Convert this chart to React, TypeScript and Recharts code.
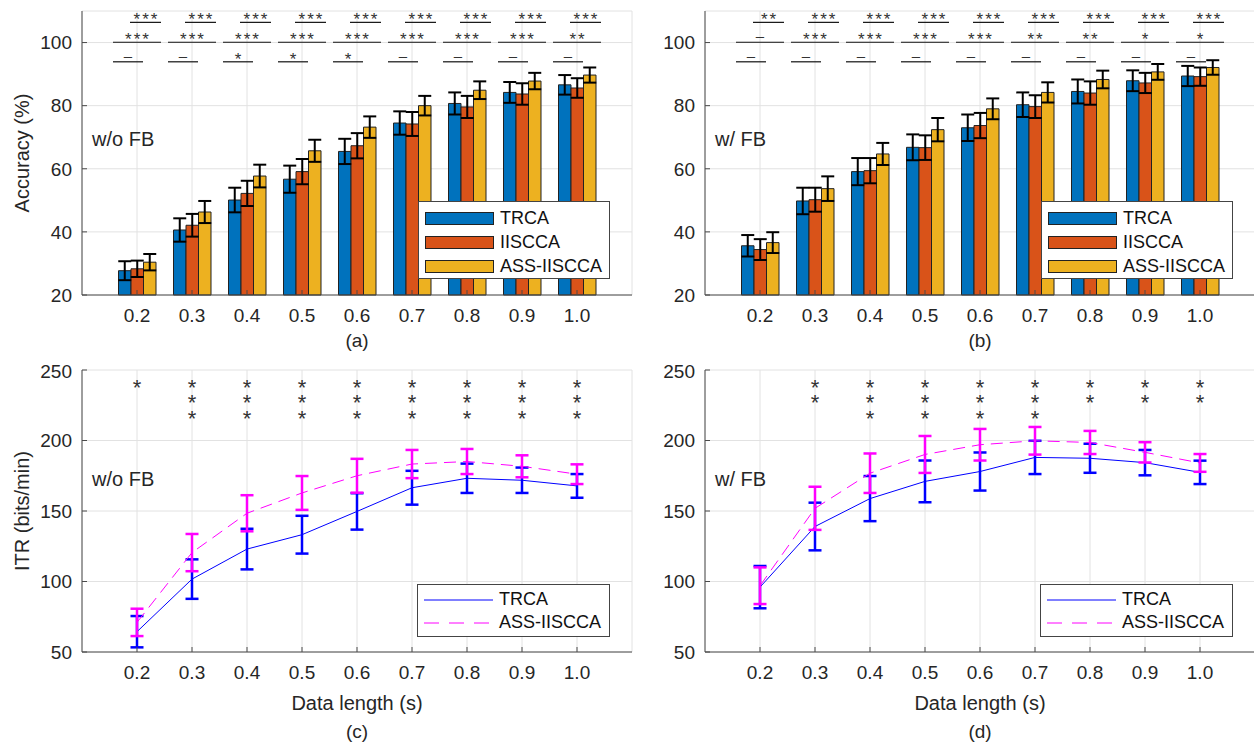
import React from "react";
import {
  Bar,
  BarChart,
  CartesianGrid,
  ErrorBar,
  Legend,
  Line,
  LineChart,
  ReferenceDot,
  XAxis,
  YAxis,
} from "recharts";

// data lengths (s)
const lengths = ["0.2", "0.3", "0.4", "0.5", "0.6", "0.7", "0.8", "0.9", "1.0"];

// accuracy (%), w/o filter bank
const accTrcaNoFb = [27.7, 40.6, 50.1, 56.7, 65.5, 74.5, 80.7, 84.2, 86.6];
const accTrcaNoFbErr = [3.0, 3.7, 3.9, 4.3, 4.0, 3.7, 3.5, 3.3, 3.1];
const accIisNoFb = [28.3, 42.1, 52.2, 59.1, 67.3, 74.2, 79.6, 83.7, 85.6];
const accIisNoFbErr = [2.6, 3.6, 4.0, 4.0, 4.0, 3.8, 3.5, 3.4, 3.1];
const accAssNoFb = [30.4, 46.3, 57.7, 65.7, 73.2, 80.0, 84.9, 87.8, 89.7];
const accAssNoFbErr = [2.6, 3.5, 3.6, 3.5, 3.4, 3.1, 2.8, 2.6, 2.4];

// accuracy (%), w/ filter bank
const accTrcaFb = [35.6, 49.8, 59.1, 66.8, 73.0, 80.3, 84.5, 87.9, 89.4];
const accTrcaFbErr = [3.4, 4.2, 4.3, 4.1, 4.2, 3.9, 3.8, 3.3, 3.2];
const accIisFb = [34.4, 50.2, 59.4, 66.7, 73.7, 79.7, 84.0, 87.2, 89.2];
const accIisFbErr = [3.3, 3.8, 4.0, 3.9, 4.0, 3.6, 3.7, 3.2, 2.9];
const accAssFb = [36.6, 53.7, 64.7, 72.4, 79.0, 84.2, 88.3, 90.7, 92.1];
const accAssFbErr = [3.3, 3.9, 3.5, 3.7, 3.3, 3.2, 2.8, 2.5, 2.3];

// significance marks: IISCCA vs ASS, TRCA vs ASS, TRCA vs IISCCA
const sigNoFbIA = ["***", "***", "***", "***", "***", "***", "***", "***", "***"];
const sigNoFbTA = ["***", "***", "***", "***", "***", "***", "***", "***", "**"];
const sigNoFbTI = ["–", "–", "*", "*", "*", "–", "–", "–", "–"];
const sigFbIA = ["**", "***", "***", "***", "***", "***", "***", "***", "***"];
const sigFbTA = ["–", "***", "***", "***", "***", "**", "**", "*", "*"];
const sigFbTI = ["–", "–", "–", "–", "–", "–", "–", "–", "–"];

// ITR (bits/min)
const itrTrcaNoFb = [64.4, 101.7, 123.0, 133.2, 149.7, 166.5, 173.2, 171.8, 167.8];
const itrTrcaNoFbErr = [11.1, 14.0, 14.4, 13.4, 12.9, 12.0, 10.4, 9.0, 8.4];
const itrAssNoFb = [71.0, 120.5, 148.4, 162.8, 175.0, 183.3, 185.1, 181.7, 176.1];
const itrAssNoFbErr = [9.7, 13.2, 12.8, 12.0, 12.0, 10.0, 8.9, 7.8, 7.0];
const itrTrcaFb = [96.0, 139.0, 158.8, 171.0, 178.0, 188.0, 187.4, 184.3, 177.4];
const itrTrcaFbErr = [15.0, 16.9, 16.0, 14.8, 13.5, 11.8, 10.3, 9.0, 8.3];
const itrAssFb = [97.0, 151.9, 176.8, 190.1, 197.0, 199.8, 198.6, 191.6, 184.1];
const itrAssFbErr = [13.0, 15.3, 14.0, 13.1, 11.2, 9.8, 8.2, 7.2, 6.3];

// number of stars above each ITR pair
const itrStarsNoFb = [1, 3, 3, 3, 3, 3, 3, 3, 3];
const itrStarsFb = [0, 2, 3, 3, 3, 3, 2, 2, 2];

const seriesOrder = ["TRCA", "IISCCA", "ASS-IISCCA"];

const FONT = 'Arial, "Liberation Sans", Helvetica, sans-serif';
const TEXT = "#262626";
const GRID = "#e2e2e2";
const AXIS = "#4a4a4a";

// bracket rows: y in accuracy units, x ends in px from group centre
const BRACKETS = [
  { y: 106.4, from: -7, to: 24 },
  { y: 100.1, from: -24, to: 24 },
  { y: 93.9, from: -24, to: 6 },
];

const ordered = (payload: any[] = []) =>
  [...payload].sort((a, b) => seriesOrder.indexOf(a.value) - seriesOrder.indexOf(b.value));

function SigMark({ cx, cy, from, to, text }: any) {
  const dash = text === "–";
  return (
    <g>
      <line x1={cx + from} x2={cx + to} y1={cy} y2={cy} stroke="#111" strokeWidth={1.2} />
      <text
        x={cx + (from + to) / 2 + (dash ? 0 : 1)}
        y={dash ? cy - 1 : cy + 3}
        textAnchor="middle"
        fontSize={dash ? 15 : 17}
        letterSpacing={dash ? 0 : 2}
        fill="#333"
        fontFamily={FONT}
      >
        {text}
      </text>
    </g>
  );
}

function StarStack({ cx, cy, n }: any) {
  return (
    <text y={cy + 12} textAnchor="middle" fontSize={22} fill="#333" fontFamily={FONT}>
      {Array.from({ length: n }).map((_, k) => (
        <tspan key={k} x={cx} dy={k === 0 ? 0 : 15.5}>
          *
        </tspan>
      ))}
    </text>
  );
}

function BarLegend({ payload }: any) {
  return (
    <div
      style={{
        width: 192,
        height: 78,
        boxSizing: "border-box",
        border: "1px solid #444",
        background: "#fff",
        padding: "4px 0 0 6px",
        fontFamily: FONT,
      }}
    >
      {ordered(payload).map((e: any) => (
        <div key={e.value} style={{ display: "flex", alignItems: "center", height: 24 }}>
          <span
            style={{
              display: "inline-block",
              width: 69,
              height: 13,
              boxSizing: "border-box",
              background: e.color,
              border: "1px solid #222",
            }}
          />
          <span style={{ marginLeft: 6, fontSize: 18, color: "#111" }}>{e.value}</span>
        </div>
      ))}
    </div>
  );
}

function LineLegend({ payload }: any) {
  return (
    <div
      style={{
        width: 193,
        height: 53,
        boxSizing: "border-box",
        border: "1px solid #444",
        background: "#fff",
        padding: "3px 0 0 6px",
        fontFamily: FONT,
      }}
    >
      {ordered(payload).map((e: any) => (
        <div key={e.value} style={{ display: "flex", alignItems: "center", height: 23 }}>
          <svg width={69} height={10}>
            <line
              x1={0}
              x2={69}
              y1={5}
              y2={5}
              stroke={e.color}
              strokeWidth={1}
              strokeDasharray={e.value === "ASS-IISCCA" ? "15 10" : undefined}
            />
          </svg>
          <span style={{ marginLeft: 6, fontSize: 18, color: "#111" }}>{e.value}</span>
        </div>
      ))}
    </div>
  );
}

function AccuracyPanel({ trca, trcaErr, iis, iisErr, ass, assErr, sigRows }: any) {
  const data = lengths.map((x, i) => ({
    x,
    trca: trca[i],
    trcaErr: trcaErr[i],
    iis: iis[i],
    iisErr: iisErr[i],
    ass: ass[i],
    assErr: assErr[i],
  }));
  return (
    <BarChart
      width={640}
      height={360}
      data={data}
      margin={{ top: 11, right: 8, left: 22, bottom: 35 }}
      barGap={0}
      barSize={12.5}
    >
      <CartesianGrid stroke={GRID} />
      <XAxis
        dataKey="x"
        interval={0}
        padding={{ left: 27.5, right: 27.5 }}
        tick={{ fill: TEXT, fontSize: 19, fontFamily: FONT }}
        tickSize={-5}
        tickMargin={19}
        stroke={AXIS}
      />
      <YAxis
        width={60}
        domain={[20, 110]}
        ticks={[20, 40, 60, 80, 100]}
        tick={{ fill: TEXT, fontSize: 19, fontFamily: FONT }}
        tickSize={-5}
        tickMargin={15}
        stroke={AXIS}
      />
      <Bar dataKey="trca" name="TRCA" fill="#0072BD" stroke="#222" strokeWidth={1} isAnimationActive={false}>
        <ErrorBar dataKey="trcaErr" width={6.5} strokeWidth={2} stroke="#000" direction="y" />
      </Bar>
      <Bar dataKey="iis" name="IISCCA" fill="#D95319" stroke="#222" strokeWidth={1} isAnimationActive={false}>
        <ErrorBar dataKey="iisErr" width={6.5} strokeWidth={2} stroke="#000" direction="y" />
      </Bar>
      <Bar dataKey="ass" name="ASS-IISCCA" fill="#EDB120" stroke="#222" strokeWidth={1} isAnimationActive={false}>
        <ErrorBar dataKey="assErr" width={6.5} strokeWidth={2} stroke="#000" direction="y" />
      </Bar>
      {BRACKETS.map((row, r) =>
        lengths.map((x, i) => (
          <ReferenceDot
            key={`b${r}-${i}`}
            x={x}
            y={row.y}
            r={0}
            ifOverflow="visible"
            shape={(p: any) => <SigMark cx={p.cx} cy={p.cy} from={row.from} to={row.to} text={sigRows[r][i]} />}
          />
        ))
      )}
      <Legend
        layout="vertical"
        align="center"
        verticalAlign="middle"
        width={192}
        height={78}
        wrapperStyle={{ left: 418, top: 201 }}
        content={(props: any) => <BarLegend payload={props.payload} />}
      />
    </BarChart>
  );
}

function ItrPanel({ trca, trcaErr, ass, assErr, stars }: any) {
  const data = lengths.map((x, i) => ({
    x,
    trca: trca[i],
    trcaErr: trcaErr[i],
    ass: ass[i],
    assErr: assErr[i],
  }));
  return (
    <LineChart width={640} height={360} data={data} margin={{ top: 10, right: 8, left: 22, bottom: 38 }}>
      <CartesianGrid stroke={GRID} />
      <XAxis
        dataKey="x"
        interval={0}
        padding={{ left: 55, right: 55 }}
        tick={{ fill: TEXT, fontSize: 19, fontFamily: FONT }}
        tickSize={-5}
        tickMargin={19}
        stroke={AXIS}
      />
      <YAxis
        width={60}
        domain={[50, 250]}
        ticks={[50, 100, 150, 200, 250]}
        tick={{ fill: TEXT, fontSize: 19, fontFamily: FONT }}
        tickSize={-5}
        tickMargin={15}
        stroke={AXIS}
      />
      <Line
        dataKey="trca"
        name="TRCA"
        stroke="#0000FF"
        strokeWidth={1}
        dot={false}
        activeDot={false}
        isAnimationActive={false}
      >
        <ErrorBar dataKey="trcaErr" width={6.5} strokeWidth={2.5} stroke="#0000FF" direction="y" />
      </Line>
      <Line
        dataKey="ass"
        name="ASS-IISCCA"
        stroke="#FF00FF"
        strokeWidth={1}
        strokeDasharray="12 7"
        dot={false}
        activeDot={false}
        isAnimationActive={false}
      >
        <ErrorBar dataKey="assErr" width={6.5} strokeWidth={2.5} stroke="#FF00FF" direction="y" />
      </Line>
      {lengths.map((x, i) =>
        stars[i] > 0 ? (
          <ReferenceDot
            key={`s${i}`}
            x={x}
            y={240.8}
            r={0}
            ifOverflow="visible"
            shape={(p: any) => <StarStack cx={p.cx} cy={p.cy} n={stars[i]} />}
          />
        ) : null
      )}
      <Legend
        layout="vertical"
        align="center"
        verticalAlign="middle"
        width={193}
        height={53}
        wrapperStyle={{ left: 417, top: 224 }}
        content={(props: any) => <LineLegend payload={props.payload} />}
      />
    </LineChart>
  );
}

export default function App() {
  return (
    <div style={{ position: "relative", width: 1254, height: 745, overflow: "hidden", background: "#fff", fontFamily: FONT }}>
      <style>{`body{margin:0}`}</style>
      <div style={{ position: "absolute", left: 0, top: 0 }}>
        <AccuracyPanel
          trca={accTrcaNoFb}
          trcaErr={accTrcaNoFbErr}
          iis={accIisNoFb}
          iisErr={accIisNoFbErr}
          ass={accAssNoFb}
          assErr={accAssNoFbErr}
          sigRows={[sigNoFbIA, sigNoFbTA, sigNoFbTI]}
        />
      </div>
      <div style={{ position: "absolute", left: 623, top: 0 }}>
        <AccuracyPanel
          trca={accTrcaFb}
          trcaErr={accTrcaFbErr}
          iis={accIisFb}
          iisErr={accIisFbErr}
          ass={accAssFb}
          assErr={accAssFbErr}
          sigRows={[sigFbIA, sigFbTA, sigFbTI]}
        />
      </div>
      <div style={{ position: "absolute", left: 0, top: 360 }}>
        <ItrPanel trca={itrTrcaNoFb} trcaErr={itrTrcaNoFbErr} ass={itrAssNoFb} assErr={itrAssNoFbErr} stars={itrStarsNoFb} />
      </div>
      <div style={{ position: "absolute", left: 623, top: 360 }}>
        <ItrPanel trca={itrTrcaFb} trcaErr={itrTrcaFbErr} ass={itrAssFb} assErr={itrAssFbErr} stars={itrStarsFb} />
      </div>
      <svg
        width={1254}
        height={745}
        style={{ position: "absolute", left: 0, top: 0, pointerEvents: "none" }}
        fontFamily={FONT}
        fill={TEXT}
      >
        <text transform="translate(29,153) rotate(-90)" textAnchor="middle" fontSize={20}>
          Accuracy (%)
        </text>
        <text transform="translate(29,511) rotate(-90)" textAnchor="middle" fontSize={20}>
          ITR (bits/min)
        </text>
        <text x={92} y={146} fontSize={20}>w/o FB</text>
        <text x={715} y={146} fontSize={20}>w/ FB</text>
        <text x={92} y={486} fontSize={20}>w/o FB</text>
        <text x={715} y={486} fontSize={20}>w/ FB</text>
        <text x={357} y={347} textAnchor="middle" fontSize={19}>(a)</text>
        <text x={980} y={347} textAnchor="middle" fontSize={19}>(b)</text>
        <text x={357} y={710} textAnchor="middle" fontSize={20}>Data length (s)</text>
        <text x={980} y={710} textAnchor="middle" fontSize={20}>Data length (s)</text>
        <text x={357} y={738} textAnchor="middle" fontSize={19}>(c)</text>
        <text x={980} y={738} textAnchor="middle" fontSize={19}>(d)</text>
      </svg>
    </div>
  );
}
